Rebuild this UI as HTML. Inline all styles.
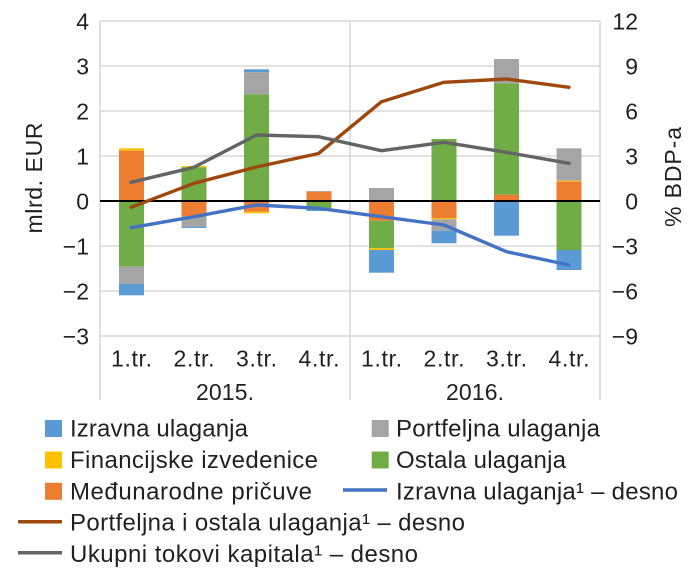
<!DOCTYPE html>
<html><head><meta charset="utf-8"><style>
html,body{margin:0;padding:0;background:#fff;}
svg{display:block;}
text{font-family:"Liberation Sans",Arial,sans-serif;fill:#231f20;}
</style></head><body>
<svg width="700" height="580" viewBox="0 0 700 580" xmlns="http://www.w3.org/2000/svg">
<!-- gridlines -->
<g stroke="#d9d9d9" stroke-width="1.6">
<line x1="100" y1="21" x2="600" y2="21"/>
<line x1="100" y1="66" x2="600" y2="66"/>
<line x1="100" y1="111" x2="600" y2="111"/>
<line x1="100" y1="156" x2="600" y2="156"/>
<line x1="100" y1="246" x2="600" y2="246"/>
<line x1="100" y1="291" x2="600" y2="291"/>
<line x1="100" y1="336" x2="600" y2="336"/>
<line x1="100" y1="21" x2="100" y2="400"/>
<line x1="350" y1="21" x2="350" y2="400"/>
<line x1="600" y1="21" x2="600" y2="400"/>
</g>
<!-- bars -->
<g>
<rect x="119" y="148.3" width="25" height="2.4" fill="#FFC000"/>
<rect x="119" y="150.7" width="25" height="50.3" fill="#ED7D31"/>
<rect x="119" y="201" width="25" height="65.7" fill="#70AD47"/>
<rect x="119" y="266.7" width="25" height="17.3" fill="#A5A5A5"/>
<rect x="119" y="284" width="25" height="11.3" fill="#5B9BD5"/>
<rect x="181.5" y="166" width="25" height="1.3" fill="#FFC000"/>
<rect x="181.5" y="167.3" width="25" height="33.7" fill="#70AD47"/>
<rect x="181.5" y="201" width="25" height="15" fill="#ED7D31"/>
<rect x="181.5" y="216" width="25" height="10.7" fill="#A5A5A5"/>
<rect x="181.5" y="226.7" width="25" height="1.3" fill="#5B9BD5"/>
<rect x="244" y="69.3" width="25" height="3" fill="#5B9BD5"/>
<rect x="244" y="72.3" width="25" height="22" fill="#A5A5A5"/>
<rect x="244" y="94.3" width="25" height="106.7" fill="#70AD47"/>
<rect x="244" y="201" width="25" height="10.7" fill="#ED7D31"/>
<rect x="244" y="211.7" width="25" height="1.6" fill="#FFC000"/>
<rect x="306.5" y="191" width="25" height="0.7" fill="#A5A5A5"/>
<rect x="306.5" y="191.7" width="25" height="9.3" fill="#ED7D31"/>
<rect x="306.5" y="201" width="25" height="9" fill="#70AD47"/>
<rect x="306.5" y="210" width="25" height="1" fill="#5B9BD5"/>
<rect x="369" y="188" width="25" height="13" fill="#A5A5A5"/>
<rect x="369" y="201" width="25" height="19.7" fill="#ED7D31"/>
<rect x="369" y="220.7" width="25" height="27.6" fill="#70AD47"/>
<rect x="369" y="248.3" width="25" height="1.7" fill="#FFC000"/>
<rect x="369" y="250" width="25" height="22.7" fill="#5B9BD5"/>
<rect x="431.5" y="139" width="25" height="62" fill="#70AD47"/>
<rect x="431.5" y="201" width="25" height="17" fill="#ED7D31"/>
<rect x="431.5" y="218" width="25" height="1.3" fill="#FFC000"/>
<rect x="431.5" y="219.3" width="25" height="11.4" fill="#A5A5A5"/>
<rect x="431.5" y="230.7" width="25" height="12.6" fill="#5B9BD5"/>
<rect x="494" y="59" width="25" height="24.3" fill="#A5A5A5"/>
<rect x="494" y="83.3" width="25" height="111.4" fill="#70AD47"/>
<rect x="494" y="194.7" width="25" height="6.3" fill="#ED7D31"/>
<rect x="494" y="201" width="25" height="1" fill="#A5A5A5"/>
<rect x="494" y="202" width="25" height="33.7" fill="#5B9BD5"/>
<rect x="556.5" y="148.3" width="25" height="32.4" fill="#A5A5A5"/>
<rect x="556.5" y="180.7" width="25" height="1" fill="#FFC000"/>
<rect x="556.5" y="181.7" width="25" height="19.3" fill="#ED7D31"/>
<rect x="556.5" y="201" width="25" height="49" fill="#70AD47"/>
<rect x="556.5" y="250" width="25" height="20" fill="#5B9BD5"/>
</g>
<line x1="100" y1="201" x2="600" y2="201" stroke="#000" stroke-width="2"/>
<g fill="none" stroke-width="3.4" stroke-linejoin="round" stroke-linecap="round">
<polyline stroke="#4472C4" points="131,227.7 194,216.7 256.5,205 318.5,208.3 381.5,216.7 444,225 506.5,251.7 569,265"/>
<polyline stroke="#9E480E" points="131,207.3 194,183.3 256.5,167 318.5,153.5 381.5,101.7 444,82.3 506.5,79 569,87.3"/>
<polyline stroke="#646464" points="131,182.3 194,167.3 256.5,135 318.5,136.7 381.5,150.7 444,142.3 506.5,152.3 569,163.3"/>
</g>
<g font-size="23" text-anchor="end">
<text x="89" y="29.3">4</text>
<text x="89" y="74.3">3</text>
<text x="89" y="119.3">2</text>
<text x="89" y="164.3">1</text>
<text x="89" y="209.3">0</text>
<text x="89" y="254.3">−1</text>
<text x="89" y="299.3">−2</text>
<text x="89" y="344.3">−3</text>
</g>
<g font-size="23" text-anchor="end">
<text x="638" y="29.3">12</text>
<text x="638" y="74.3">9</text>
<text x="638" y="119.3">6</text>
<text x="638" y="164.3">3</text>
<text x="638" y="209.3">0</text>
<text x="638" y="254.3">−3</text>
<text x="638" y="299.3">−6</text>
<text x="638" y="344.3">−9</text>
</g>
<g font-size="23" text-anchor="middle">
<text x="131.5" y="366.3" textLength="41">1.tr.</text>
<text x="194" y="366.3" textLength="41">2.tr.</text>
<text x="256.5" y="366.3" textLength="41">3.tr.</text>
<text x="319" y="366.3" textLength="41">4.tr.</text>
<text x="381.5" y="366.3" textLength="41">1.tr.</text>
<text x="444" y="366.3" textLength="41">2.tr.</text>
<text x="506.5" y="366.3" textLength="41">3.tr.</text>
<text x="569" y="366.3" textLength="41">4.tr.</text>
<text x="225" y="399.8" textLength="58">2015.</text>
<text x="475" y="399.8" textLength="58">2016.</text>
</g>
<text font-size="23" text-anchor="middle" x="42" y="178" transform="rotate(-90 42 178)" textLength="111">mlrd. EUR</text>
<text font-size="23" text-anchor="middle" x="681" y="177" transform="rotate(-90 681 177)" textLength="100">% BDP-a</text>
<rect x="45" y="420" width="17" height="17" fill="#5B9BD5"/>
<rect x="45" y="451.5" width="17" height="17" fill="#FFC000"/>
<rect x="45" y="482.8" width="17" height="17" fill="#ED7D31"/>
<rect x="371.7" y="420" width="17" height="17" fill="#A5A5A5"/>
<rect x="371.7" y="451.5" width="17" height="17" fill="#70AD47"/>
<line x1="343" y1="490" x2="387" y2="490" stroke="#4472C4" stroke-width="3.5"/>
<line x1="18" y1="521.7" x2="62" y2="521.7" stroke="#9E480E" stroke-width="3.5"/>
<line x1="18" y1="552.8" x2="62" y2="552.8" stroke="#646464" stroke-width="3.5"/>
<g font-size="24">
<text x="70" y="436.7" textLength="178">Izravna ulaganja</text>
<text x="70" y="468" textLength="248">Financijske izvedenice</text>
<text x="70" y="499.3" textLength="242">Međunarodne pričuve</text>
<text x="70" y="530.6" textLength="395">Portfeljna i ostala ulaganja¹ – desno</text>
<text x="70" y="561.8" textLength="348">Ukupni tokovi kapitala¹ – desno</text>
<text x="396" y="436.7" textLength="204">Portfeljna ulaganja</text>
<text x="396" y="468" textLength="170">Ostala ulaganja</text>
<text x="396" y="499.3" textLength="282">Izravna ulaganja¹ – desno</text>
</g>
</svg>
</body></html>
